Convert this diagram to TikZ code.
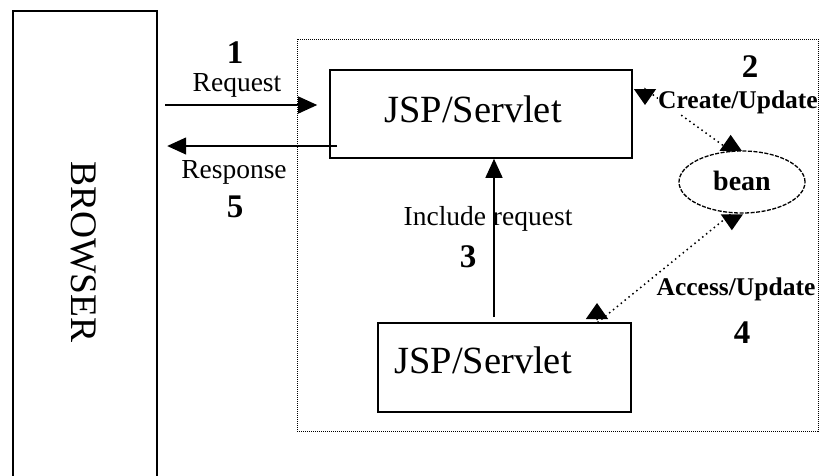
\documentclass[tikz,border=0pt]{standalone}
\usepackage{fontspec}
\setmainfont{Liberation Serif}
\usetikzlibrary{arrows.meta,shapes.geometric,calc}

\tikzset{
  fs/.style={font=\fontsize{#1}{#1}\selectfont},
  box/.style={draw, line width=1.6pt, inner sep=0pt, rectangle},
  boxtext/.style={fs=38.5, inner sep=0pt, anchor=base},
  lbl/.style={fs=27.5, inner sep=0pt, anchor=base},
  num/.style={font=\fontsize{33}{33}\selectfont\bfseries, inner sep=0pt, anchor=base},
  blbl/.style={font=\fontsize{25.5}{25.5}\selectfont\bfseries, inner xsep=0pt, inner ysep=1pt, anchor=base, fill=white},
  solidarr/.style={line width=1.4pt, -{Triangle[length=19pt,width=17pt]}},
  dotarr/.style={line width=1.5pt, dash pattern=on 1.5pt off 3.5pt,
    {Triangle[length=16pt,width=22pt]}-{Triangle[length=16pt,width=22pt]}},
}

\begin{document}
\begin{tikzpicture}[x=1pt,y=-1pt]
\useasboundingbox (0,0) rectangle (821,475);

% browser column, open at the bottom
\node[minimum width=144pt, minimum height=470pt, inner sep=0pt] (browser) at (85,246) {};
\draw[line width=1.6pt] (browser.south west) -- (browser.north west) -- (browser.north east) -- (browser.south east);
\node[fs=37.5, rotate=-90, inner sep=0pt] (browsertext) at (84,252) {BROWSER};

% server-side container
\node[draw, line width=1pt, dash pattern=on 1pt off 1pt, minimum width=521pt, minimum height=392pt, inner sep=0pt] (server) at (557.5,235) {};

% servlet boxes
\node[box, minimum width=302pt, minimum height=88pt] (top) at (481,114) {};
\node[boxtext] (toptext) at (473,122) {JSP/Servlet};
\node[box, minimum width=253pt, minimum height=89pt] (bot) at (504.5,367.5) {};
\node[boxtext] (bottext) at (483,373) {JSP/Servlet};

% bean
\node[draw, ellipse, line width=1.3pt, dash pattern=on 4pt off 1.5pt, minimum width=126pt, minimum height=62pt, inner sep=0pt] (bean) at (742,182) {};
\node[font=\fontsize{28}{28}\selectfont\bfseries, inner sep=0pt, anchor=base] (beantext) at (742,190) {bean};

% request / response
\draw[solidarr, shorten <=8pt, shorten >=12pt] (browser.east |- 0,105) -- (top.west |- 0,105);
\draw[solidarr, shorten <=-8pt, shorten >=10pt] (top.west |- 0,146) -- (browser.east |- 0,146);
\node[num] (n1) at (235,63) {1};
\node[lbl] (req) at (237,91) {Request};
\node[lbl] (resp) at (234,178) {Response};
\node[num] (n5) at (235,217) {5};

% include request
\draw[solidarr, shorten <=5pt] (bot.north -| 494,0) -- (top.south -| 494,0);
\node[lbl] (incl) at (488,225) {Include request};
\node[num] (n3) at (468,267) {3};

% bean access: the heads stand upright on short stubs
\coordinate (c2) at (645,105);
\coordinate (c4) at (597,303);
\draw[dotarr] (c2) -- ++(0,-16) -- (bean.110) -- ++(0,-16);
\draw[dotarr] (c4) -- ++(0,20) -- (bean.252) -- ++(0,17);
\node[num] (n2) at (750,77) {2};
\node[blbl] (create) at (738,108) {Create/Update};
\node[blbl] (access) at (736,295) {Access/Update};
\node[num] (n4) at (742,343) {4};
\end{tikzpicture}
\end{document}
